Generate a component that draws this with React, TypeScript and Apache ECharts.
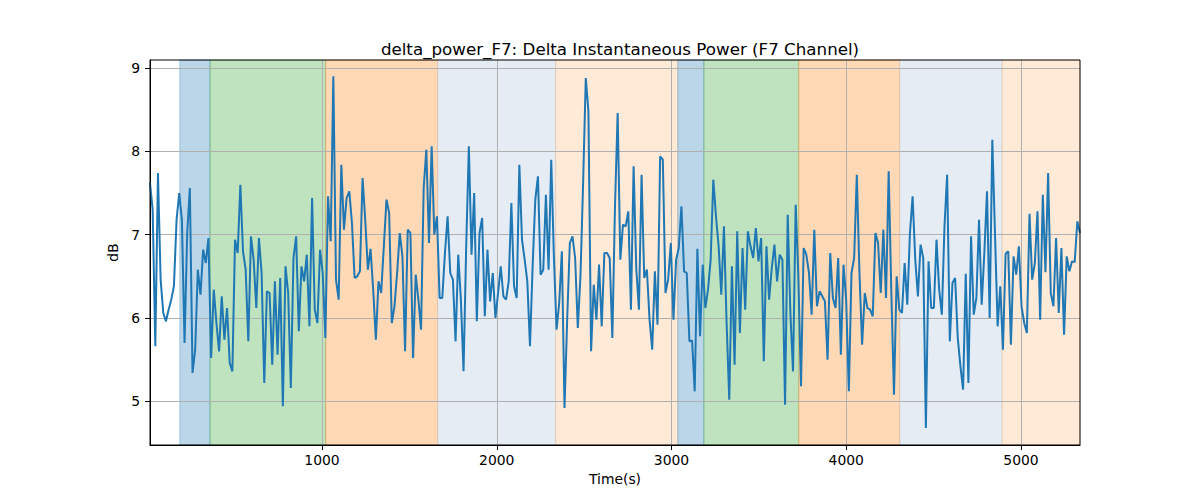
import { useEffect, useRef } from "react";
import * as echarts from "echarts";

const TITLE = "delta_power_F7: Delta Instantaneous Power (F7 Channel)";
const X_NAME = "Time(s)";
const Y_NAME = "dB";

// time range covered by the samples (seconds)
const T_START = 15.7;
const T_END = 5337.6;

const xTicks = [1000, 2000, 3000, 4000, 5000];
const yTicks = [5, 6, 7, 8, 9];
const yMin = 4.476;
const yMax = 9.096;

// delta power samples (dB), evenly spaced between T_START and T_END
const powerDb = [
  7.62, 7.3, 5.66, 7.74, 6.46, 6.06, 5.96, 6.1, 6.22, 6.38, 7.18, 7.5, 7.18, 5.7, 7.02, 7.56, 5.34, 5.62, 6.58, 6.28,
  6.82, 6.66, 6.96, 5.52, 6.34, 5.94, 5.6, 6.26, 5.74, 6.12, 5.46, 5.36, 6.94, 6.78, 7.6, 6.8, 6.58, 5.72, 6.98, 6.7,
  6.12, 6.96, 6.54, 5.22, 6.32, 6.3, 5.44, 6.44, 5.56, 6.48, 4.94, 6.62, 6.3, 5.16, 6.72, 6.98, 5.84, 6.62,
  6.44, 6.76, 5.9, 7.44, 6.1, 5.94, 6.82, 6.54, 5.76, 7.46, 6.92, 8.9, 6.46, 6.22, 7.84, 7.06, 7.44, 7.52, 7.14, 6.48,
  6.5, 6.56, 7.68, 7.18, 6.58, 6.83, 6.34, 5.74, 6.44, 6.3, 6.86, 7.42, 7.26, 5.94, 6.14, 6.54, 7.02, 6.74, 5.6, 7.06,
  7.02, 5.52, 6.52, 6.22, 5.86, 7.56, 8.02, 6.9, 8.06, 7.0, 7.22, 6.24, 6.24, 6.78, 7.22, 6.54, 6.46, 5.72,
  6.76, 6.22, 5.36, 6.86, 8.06, 6.76, 7.5, 5.96, 7.02, 7.2, 6.02, 6.82, 6.2, 6.54, 6.0, 6.3, 6.62, 6.26, 6.22, 6.44,
  7.38, 6.38, 6.24, 7.84, 6.94, 6.7, 6.44, 5.66, 6.62, 7.42, 7.7, 6.52, 6.58, 7.48, 6.58, 7.9, 6.74, 5.86, 6.18, 6.8,
  4.92, 5.98, 6.9, 6.98, 6.72, 5.88, 6.5, 7.62, 8.88, 8.48, 5.6, 6.4, 5.98, 6.64, 5.9, 6.78, 6.78, 6.72,
  5.76, 7.34, 8.46, 6.7, 7.12, 7.1, 7.28, 6.1, 7.82, 6.6, 6.1, 7.72, 6.48, 6.58, 5.98, 5.62, 6.56, 5.92, 7.94, 7.9,
  6.3, 6.46, 6.9, 5.98, 6.7, 6.84, 7.34, 6.56, 6.54, 5.72, 5.73, 5.12, 6.83, 5.78, 6.64, 6.12, 6.34, 6.7, 7.66, 7.22,
  6.86, 6.28, 7.1, 5.94, 5.02, 6.62, 5.44, 7.04, 5.82, 6.84, 6.1, 7.04, 6.86, 6.72, 7.08, 6.68, 6.96,
  5.48, 6.86, 6.22, 6.6, 6.88, 6.44, 6.76, 6.7, 4.96, 7.24, 6.06, 5.36, 7.36, 6.5, 5.18, 6.84, 6.76, 6.54, 6.04, 7.06,
  6.14, 6.32, 6.26, 6.2, 5.5, 6.78, 6.24, 6.12, 6.72, 5.56, 6.64, 6.22, 5.12, 6.54, 6.72, 7.72, 6.54, 5.68, 6.3, 6.12,
  6.1, 6.02, 7.02, 6.9, 6.3, 7.06, 6.24, 7.76, 6.3, 5.08, 6.5, 6.1, 6.06, 6.66, 6.16, 7.02, 7.46, 6.7, 6.26, 6.88,
  6.72, 4.68, 6.68, 6.12, 6.12, 6.94, 6.34, 6.04, 7.1, 7.72, 5.72, 6.42, 6.48, 5.76, 5.42, 5.14, 6.53, 5.22, 6.98, 6.04,
  6.24, 7.18, 6.16, 6.78, 7.52, 6.0, 8.14, 7.02, 5.9, 6.38, 5.62, 6.77, 6.8, 5.68, 6.74, 6.52, 6.86, 6.14, 5.94, 5.82,
  7.25, 6.46, 6.66, 7.28, 5.98, 7.48, 6.55, 7.74, 6.3, 6.14, 6.96, 6.06, 6.84, 5.8, 6.74, 6.56, 6.68, 6.67, 7.16, 7.02,
];

// shaded segments
const spanStarts = [186, 359, 1021, 1662, 2337, 3036, 3185, 3728, 4306, 4891];
const spanEnds = [359, 1021, 1662, 2337, 3036, 3185, 3728, 4306, 4891, 5337.6];
const spanKinds = ["blue", "green", "orange", "steel", "peach", "blue", "green", "orange", "steel", "peach"];

const SPAN_COLORS: Record<string, string> = {
  blue: "rgba(31, 119, 180, 0.3)",
  green: "rgba(44, 160, 44, 0.3)",
  orange: "rgba(255, 127, 14, 0.3)",
  steel: "rgba(176, 196, 222, 0.33)",
  peach: "rgba(255, 127, 14, 0.16)",
};

const FONT = "DejaVu Sans";

export default function App() {
  const chartRef = useRef<HTMLDivElement | null>(null);

  useEffect(() => {
    document.body.style.margin = "0";
    if (!chartRef.current) {
      return;
    }

    const chart = echarts.init(chartRef.current, null, { renderer: "svg" });
    const step = (T_END - T_START) / (powerDb.length - 1);
    const points = powerDb.map((v, i) => [T_START + i * step, v]);

    chart.setOption({
      animation: false,
      title: {
        text: TITLE,
        left: 615,
        top: 35,
        textAlign: "center",
        textStyle: { fontFamily: FONT, fontSize: 16.7, fontWeight: "normal", color: "#000" },
      },
      grid: {
        left: 150,
        right: 120,
        top: 60,
        bottom: 55,
        show: true,
        z: 3,
        backgroundColor: "transparent",
        borderColor: "#000",
        borderWidth: 1,
      },
      xAxis: {
        type: "value",
        min: T_START,
        max: T_END,
        z: 1,
        name: X_NAME,
        nameLocation: "middle",
        nameGap: 27,
        nameTextStyle: { fontFamily: FONT, fontSize: 13.9, color: "#000" },
        axisLine: { show: true, onZero: false, lineStyle: { color: "#000", width: 1 } },
        axisTick: { show: true, length: 5, customValues: xTicks, lineStyle: { color: "#000" } },
        axisLabel: {
          customValues: xTicks,
          margin: 8,
          color: "#000",
          fontFamily: FONT,
          fontSize: 13.9,
          formatter: (v: number) => String(v),
        },
        splitLine: { show: true, lineStyle: { color: "#b0b0b0", width: 1 } },
      },
      yAxis: {
        type: "value",
        min: yMin,
        max: yMax,
        z: 1,
        name: Y_NAME,
        nameLocation: "middle",
        nameGap: 25,
        nameRotate: 90,
        nameTextStyle: { fontFamily: FONT, fontSize: 13.9, color: "#000" },
        axisLine: { show: true, onZero: false, lineStyle: { color: "#000", width: 1 } },
        axisTick: { show: true, length: 5, customValues: yTicks, lineStyle: { color: "#000" } },
        axisLabel: {
          customValues: yTicks,
          margin: 10,
          color: "#000",
          fontFamily: FONT,
          fontSize: 13.9,
          formatter: (v: number) => String(v),
        },
        splitLine: { show: true, lineStyle: { color: "#b0b0b0", width: 1 } },
      },
      series: [
        {
          type: "line",
          z: 2,
          data: points,
          showSymbol: false,
          symbol: "none",
          lineStyle: { color: "#1f77b4", width: 2 },
          markArea: {
            z: 0,
            silent: true,
            data: spanStarts.map((s, i) => [
              {
                xAxis: s,
                itemStyle: {
                  color: SPAN_COLORS[spanKinds[i]],
                  borderColor: SPAN_COLORS[spanKinds[i]],
                  borderWidth: 1,
                },
              },
              { xAxis: spanEnds[i] },
            ]),
          },
        },
      ],
    });

    return () => {
      chart.dispose();
    };
  }, []);

  return <div ref={chartRef} style={{ width: 1200, height: 500 }} />;
}
